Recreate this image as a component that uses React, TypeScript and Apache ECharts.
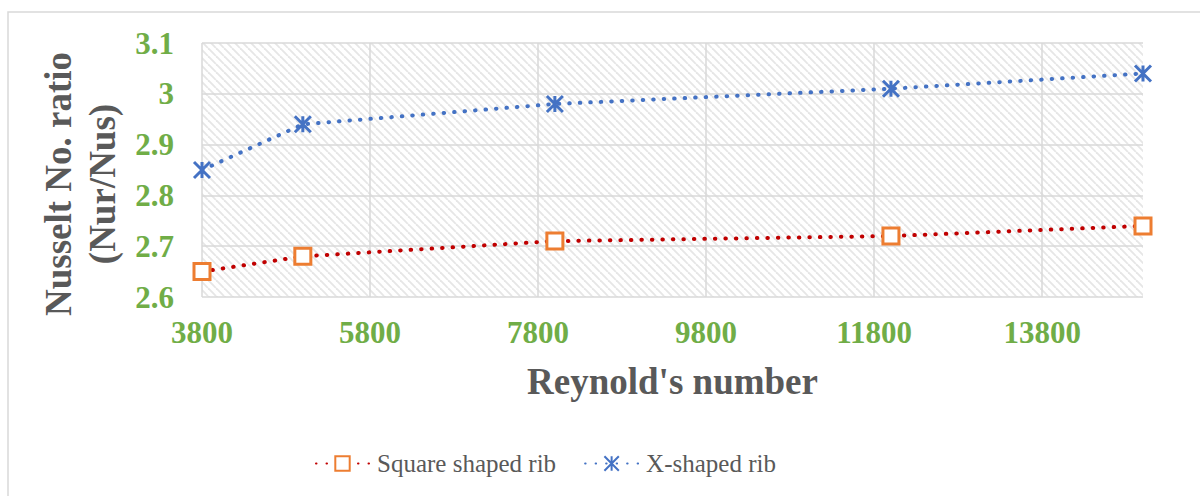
import React, { useEffect, useRef } from "react";
import * as echarts from "echarts";

const reynolds = [3800, 5000, 8000, 12000, 15000];
const squareRib = [2.65, 2.68, 2.71, 2.72, 2.74];
const xShapedRib = [2.85, 2.94, 2.98, 3.01, 3.04];
const seriesNames = ["Square shaped rib", "X-shaped rib"];
const xAxisTitle = "Reynold's number";
const yAxisTitle = "Nusselt No. ratio\n(Nur/Nus)";

const FONT = "'Liberation Serif', 'Times New Roman', serif";

function makeHatch() {
  const c = document.createElement("canvas");
  c.width = 8;
  c.height = 8;
  const ctx = c.getContext("2d");
  if (ctx) {
    ctx.fillStyle = "#ffffff";
    ctx.fillRect(0, 0, 8, 8);
    ctx.strokeStyle = "#e6e6e6";
    ctx.lineWidth = 1.9;
    for (const k of [-8, 0, 8]) {
      ctx.beginPath();
      ctx.moveTo(k, 0);
      ctx.lineTo(k + 8, 8);
      ctx.stroke();
    }
  }
  return c;
}

export default function App() {
  const ref = useRef<HTMLDivElement>(null);
  useEffect(() => {
    if (!ref.current) return;
    const chart = echarts.init(ref.current, undefined, { renderer: "svg" });
    const hatch = makeHatch();
    const starPath = "path://M0 0L10 10M10 0L0 10M5 0L5 10";
    chart.setOption({
      animation: false,
      backgroundColor: "#ffffff",
      textStyle: { fontFamily: FONT },
      graphic: [
        {
          type: "rect",
          z: -10,
          shape: { x: 8, y: 12, width: 1400, height: 700 },
          style: { fill: "none", stroke: "#d9d9d9", lineWidth: 1.5 },
        },
      ],
      grid: {
        left: 202,
        right: 57,
        top: 43,
        bottom: 199,
        outerBoundsMode: "none",
        containLabel: false,
        show: true,
        borderWidth: 0,
        backgroundColor: {
          image: hatch,
          repeat: "repeat",
          imageWidth: 8,
          imageHeight: 8,
        } as any,
      } as any,
      legend: {
        left: 310,
        top: 446,
        itemWidth: 53,
        itemHeight: 18,
        itemGap: 28,
        data: seriesNames,
        textStyle: {
          fontFamily: FONT,
          fontSize: 25,
          color: "#595959",
          padding: [0, 0, 0, 3],
        },
      },
      xAxis: {
        type: "value",
        min: 3800,
        max: 15000,
        interval: 2000,
        name: xAxisTitle,
        nameLocation: "middle",
        nameGap: 66,
        nameTextStyle: {
          fontFamily: FONT,
          fontSize: 37,
          fontWeight: "bold",
          color: "#595959",
        },
        axisLine: { show: false },
        axisTick: { show: false },
        axisLabel: {
          fontFamily: FONT,
          fontSize: 31,
          fontWeight: "bold",
          color: "#70AD47",
          margin: 20,
          showMaxLabel: false,
          formatter: (v: number) => String(v),
        },
        splitLine: {
          show: true,
          showMaxLine: false,
          lineStyle: { color: "#d9d9d9", width: 1.5 },
        },
      },
      yAxis: {
        type: "value",
        min: 2.6,
        max: 3.1,
        interval: 0.1,
        name: yAxisTitle,
        nameLocation: "middle",
        nameGap: 64,
        nameRotate: 90,
        nameTextStyle: {
          fontFamily: FONT,
          fontSize: 37,
          fontWeight: "bold",
          color: "#595959",
          lineHeight: 44,
          padding: [0, 28, 0, 0],
        },
        axisLine: { show: false },
        axisTick: { show: false },
        axisLabel: {
          fontFamily: FONT,
          fontSize: 31,
          fontWeight: "bold",
          color: "#70AD47",
          margin: 28,
        },
        splitLine: {
          show: true,
          lineStyle: { color: "#d9d9d9", width: 1.5 },
        },
      },
      series: [
        {
          name: seriesNames[0],
          type: "line",
          data: reynolds.map((x, i) => [x, squareRib[i]]),
          symbol: "rect",
          symbolSize: 16,
          lineStyle: { color: "#C00000", width: 4, type: [0.5, 10], cap: "round" },
          itemStyle: { color: "#ffffff", borderColor: "#ED7D31", borderWidth: 3 },
          z: 3,
        },
        {
          name: seriesNames[1],
          type: "line",
          data: reynolds.map((x, i) => [x, xShapedRib[i]]),
          symbol: starPath,
          symbolSize: 16,
          lineStyle: { color: "#4472C4", width: 4, type: [0.5, 10], cap: "round" },
          itemStyle: { color: "#4472C4", borderColor: "#4472C4", borderWidth: 3 },
          z: 3,
        },
      ],
    });
    return () => chart.dispose();
  }, []);
  return (
    <div
      ref={ref}
      style={{ position: "fixed", left: 0, top: 0, width: 1200, height: 496 }}
    />
  );
}
